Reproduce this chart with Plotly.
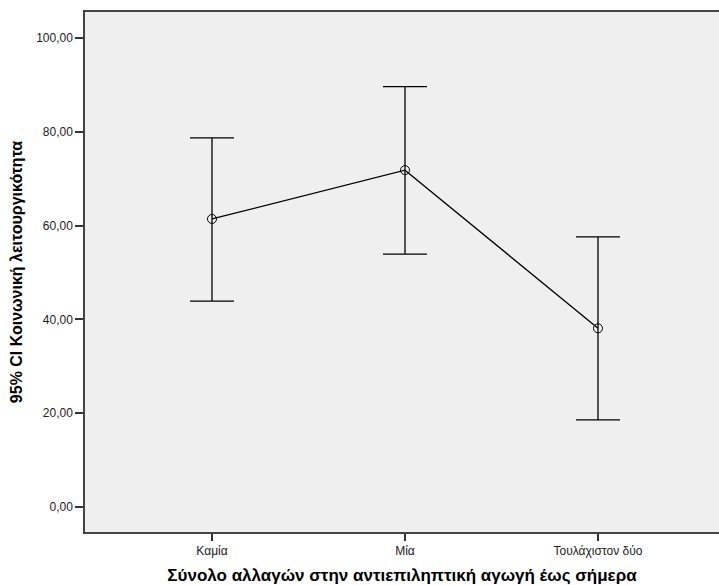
import plotly.graph_objects as go

categories = ["Καμία", "Μία", "Τουλάχιστον δύο"]
means = [61.4, 71.8, 38.1]
upper = [78.7, 89.6, 57.6]
lower = [43.9, 53.9, 18.6]
y_ticks = [0, 20, 40, 60, 80, 100]

err_plus = [u - m for u, m in zip(upper, means)]
err_minus = [m - l for m, l in zip(means, lower)]

fig = go.Figure()
fig.add_trace(go.Scatter(
    x=[0, 1, 2], y=means, mode="lines+markers",
    line=dict(color="black", width=1.3),
    marker=dict(symbol="circle-open", size=9, color="black", line=dict(width=1)),
    error_y=dict(type="data", symmetric=False, array=err_plus, arrayminus=err_minus,
                 color="black", thickness=1.3, width=22),
    showlegend=False,
))

fig.update_layout(
    width=719, height=585,
    margin=dict(l=85, r=0, t=12, b=53),
    paper_bgcolor="white", plot_bgcolor="#EFEFEF",
    separators=",.",
    font=dict(family="Liberation Sans, Arial, sans-serif", color="#222", size=12),
)
fig.update_xaxes(
    range=[-0.658, 2.627], tickvals=[0, 1, 2], ticktext=categories,
    showgrid=False, zeroline=False, showline=True, linecolor="#444", linewidth=1.5, mirror=True,
    ticks="outside", ticklen=7, tickcolor="#333", tickwidth=1.5,
    tickfont=dict(size=12),
    title=dict(text="<b>Σύνολο αλλαγών στην αντιεπιληπτική αγωγή έως σήμερα</b>",
               font=dict(size=17, color="black"), standoff=12),
)
fig.update_yaxes(
    range=[-5.3, 105.5], tickvals=y_ticks, tickformat=".2f",
    showgrid=False, zeroline=False, showline=True, linecolor="#444", linewidth=1.5, mirror=False,
    ticks="outside", ticklen=8, tickcolor="#333", tickwidth=1.5,
    tickfont=dict(size=12),
    title=dict(text="<b>95% CI Κοινωνική λειτουργικότητα</b>",
               font=dict(size=16, color="black"), standoff=10),
)

fig.write_html("out.html")
